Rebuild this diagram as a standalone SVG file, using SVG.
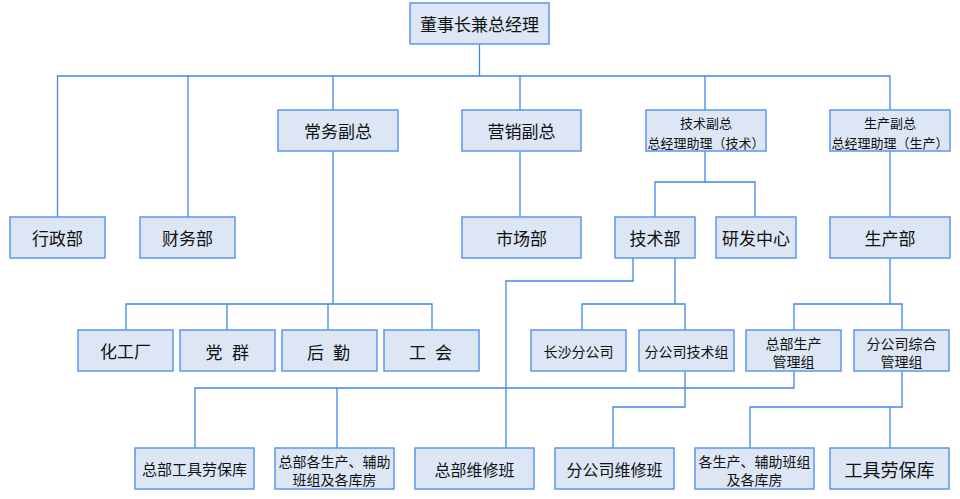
<svg xmlns="http://www.w3.org/2000/svg" width="960" height="499" viewBox="0 0 960 499">
<style>
.box{fill:#dce6f5;stroke:#5b97ef;stroke-width:1.5}
.ln{fill:none;stroke:#3f86ee;stroke-width:1.3}
text{font-family:"Noto Sans CJK SC","Noto Sans",sans-serif;fill:#111;text-anchor:middle;dominant-baseline:central}
.f17{font-size:17px}.f16{font-size:16px}.f15{font-size:15px}.f14{font-size:14px}.f13{font-size:13px}.f18{font-size:18px}
</style>
<rect width="960" height="499" fill="#fff"/>
<g id="connectors">
<path class="ln" d="M479.5 44V76"/>
<path class="ln" d="M57.5 217V76H890V110"/>
<path class="ln" d="M188 76V217"/>
<path class="ln" d="M333 76V110"/>
<path class="ln" d="M520 76V110"/>
<path class="ln" d="M705 76V110"/>
<path class="ln" d="M520 151V217"/>
<path class="ln" d="M705 151V182"/>
<path class="ln" d="M655 217V182H755V217"/>
<path class="ln" d="M890 151V217"/>
<path class="ln" d="M333 151V304"/>
<path class="ln" d="M126 330V304H432V330"/>
<path class="ln" d="M227 304V330"/>
<path class="ln" d="M328 304V330"/>
<path class="ln" d="M633 258V281H506V448"/>
<path class="ln" d="M675 258V304"/>
<path class="ln" d="M582 330V304H685V330"/>
<path class="ln" d="M890 258V304"/>
<path class="ln" d="M794 330V304H902V330"/>
<path class="ln" d="M794 371V388H195V448"/>
<path class="ln" d="M337 388V448"/>
<path class="ln" d="M685 371V407H613V448"/>
<path class="ln" d="M902 371V407H750V448"/>
<path class="ln" d="M890 407V448"/>
</g>
<g id="n-top"><rect class="box" x="410" y="3" width="139" height="41"/><text class="f17" x="479.5" y="23.5">董事长兼总经理</text></g>
<g id="n-xingzheng"><rect class="box" x="10" y="217" width="95" height="41"/><text class="f17" x="57.5" y="237.5">行政部</text></g>
<g id="n-caiwu"><rect class="box" x="140" y="217" width="95" height="41"/><text class="f17" x="187.5" y="237.5">财务部</text></g>
<g id="n-changwu"><rect class="box" x="278" y="110" width="120" height="41"/><text class="f17" x="338" y="130.5">常务副总</text></g>
<g id="n-yingxiao"><rect class="box" x="462" y="110" width="119" height="41"/><text class="f17" x="521.5" y="130.5">营销副总</text></g>
<g id="n-jishufz"><rect class="box" x="646" y="110" width="120" height="41"/><text class="f13"><tspan x="706" y="122">技术副总</tspan><tspan x="706" y="142">总经理助理（技术）</tspan></text></g>
<g id="n-shengchanfz"><rect class="box" x="830" y="110" width="120" height="41"/><text class="f13"><tspan x="890" y="122">生产副总</tspan><tspan x="890" y="142">总经理助理（生产）</tspan></text></g>
<g id="n-shichang"><rect class="box" x="462" y="217" width="119" height="41"/><text class="f17" x="521.5" y="237.5">市场部</text></g>
<g id="n-jishubu"><rect class="box" x="615" y="217" width="80" height="41"/><text class="f17" x="655" y="237.5">技术部</text></g>
<g id="n-yanfa"><rect class="box" x="716" y="217" width="80" height="41"/><text class="f17" x="756" y="237.5">研发中心</text></g>
<g id="n-shengchanbu"><rect class="box" x="830" y="217" width="120" height="41"/><text class="f17" x="890" y="237.5">生产部</text></g>
<g id="n-huagong"><rect class="box" x="78" y="330" width="95" height="41"/><text class="f17" x="125.5" y="350.5">化工厂</text></g>
<g id="n-dangqun"><rect class="box" x="180" y="330" width="95" height="41"/><text class="f17" y="350.5"><tspan x="214">党</tspan><tspan x="240.5">群</tspan></text></g>
<g id="n-houqin"><rect class="box" x="282" y="330" width="95" height="41"/><text class="f17" y="350.5"><tspan x="315.5">后</tspan><tspan x="341.5">勤</tspan></text></g>
<g id="n-gonghui"><rect class="box" x="384" y="330" width="95" height="41"/><text class="f17" y="350.5"><tspan x="417.5">工</tspan><tspan x="443.5">会</tspan></text></g>
<g id="n-changsha"><rect class="box" x="531" y="330" width="95" height="41"/><text class="f14" x="578.5" y="350.5">长沙分公司</text></g>
<g id="n-fgsjs"><rect class="box" x="639" y="330" width="95" height="41"/><text class="f14" x="686.5" y="350.5">分公司技术组</text></g>
<g id="n-zbscgl"><rect class="box" x="746" y="330" width="95" height="41"/><text class="f14"><tspan x="793.5" y="343">总部生产</tspan><tspan x="793.5" y="361">管理组</tspan></text></g>
<g id="n-fgszh"><rect class="box" x="854" y="330" width="95" height="41"/><text class="f14"><tspan x="901.5" y="343">分公司综合</tspan><tspan x="901.5" y="361">管理组</tspan></text></g>
<g id="n-zbgjlb"><rect class="box" x="135" y="448" width="119" height="41"/><text class="f15" x="194.5" y="468.5">总部工具劳保库</text></g>
<g id="n-zbgsc"><rect class="box" x="275" y="448" width="119" height="41"/><text class="f14"><tspan x="334.5" y="461">总部各生产、辅助</tspan><tspan x="334.5" y="479">班组及各库房</tspan></text></g>
<g id="n-zbwx"><rect class="box" x="415" y="448" width="119" height="41"/><text class="f16" x="474.5" y="468.5">总部维修班</text></g>
<g id="n-fgswx"><rect class="box" x="555" y="448" width="119" height="41"/><text class="f16" x="614.5" y="468.5">分公司维修班</text></g>
<g id="n-gsc"><rect class="box" x="695" y="448" width="119" height="41"/><text class="f14"><tspan x="754.5" y="461">各生产、辅助班组</tspan><tspan x="754.5" y="479">及各库房</tspan></text></g>
<g id="n-gjlb"><rect class="box" x="830" y="448" width="119" height="41"/><text class="f18" x="889.5" y="468.5">工具劳保库</text></g>
</svg>
